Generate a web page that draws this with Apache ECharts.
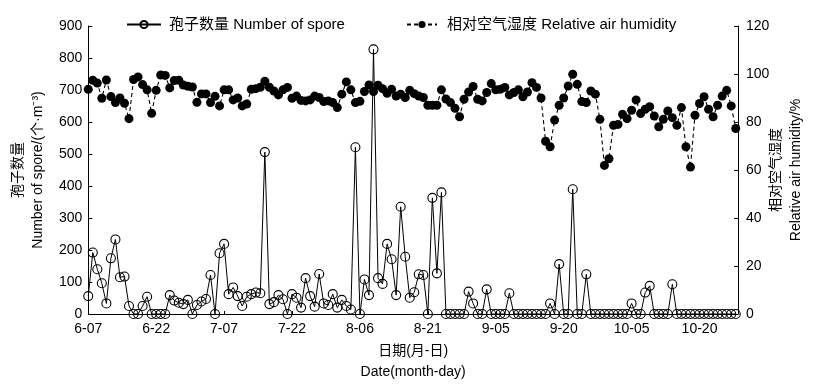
<!DOCTYPE html>
<html><head><meta charset="utf-8">
<script src="https://cdn.jsdelivr.net/npm/echarts@6/dist/echarts.min.js"></script>
<style>html,body{margin:0;padding:0;background:#fff}#c{width:824px;height:389px}</style>
</head><body><div id="c"></div>
<script>
// day index 0 = 6-07, one value per day
const tickLabels = ['6-07','6-22','7-07','7-22','8-06','8-21','9-05','9-20','10-05','10-20'];
const sporeCounts = [
  56,192,140,96,33,174,233,115,117,25,
  0,0,25,54,0,0,0,0,59,42,
  35,31,44,0,28,39,47,122,0,190,
  219,62,83,56,25,54,62,67,65,506,
  31,37,59,46,0,62,51,20,112,56,
  23,125,33,28,62,20,44,25,14,521,
  0,108,59,827,112,94,219,171,59,335,
  179,51,68,124,122,0,363,127,380,0,
  0,0,0,0,70,33,0,0,77,0,
  0,0,0,65,0,0,0,0,0,0,
  0,0,33,0,156,0,0,390,0,0,
  124,0,0,0,0,0,0,0,0,0,
  33,0,0,67,88,0,0,0,0,93,
  0,0,0,0,0,0,0,0,0,0,
  0,0,0,0
];
const humidity = [
  93.6,97.4,96.2,89.9,97.5,90.6,88.1,90,87.8,81.4,
  97.7,98.8,95.6,93.4,83.6,93.2,99.6,99.4,94.2,97.3,
  97.4,95.4,94.9,94.6,88.2,91.7,91.7,88.1,90.7,86.7,
  93.4,93.4,89.2,90,86.7,87.5,93.6,93.9,94.5,97,
  94.5,92.9,91.3,93.4,94.4,89.9,90.8,89,88.8,89.2,
  90.8,90.2,88.5,88.8,88.1,86,91.6,96.7,93.4,88.1,
  88.6,92.7,95.4,92.7,95.3,93.9,92,93.6,90.8,91.6,
  90.2,93.2,91.8,90.8,90.2,87,87,87,93.4,89.6,
  88.1,85.7,82.2,89.5,92.5,94.8,89.5,88.8,92.3,96,
  93.4,93.6,94.4,91.3,92.3,93.4,90.5,92.5,96.4,94.4,
  90,72,69.7,80.8,87,90,95,99.9,95.7,88.5,
  88.1,92.9,91.6,81.1,61.9,64.7,78.6,79,83.2,81.4,
  84.9,89.2,83.5,85.3,86.4,82.5,78,81.1,84.6,81.8,
  78.6,86,69.7,61.2,82.8,87.7,90.5,85.3,82.2,87,
  90.8,93.2,86.7,77.3
];
const sporeName = '孢子数量 Number of spore';
const humName = '相对空气湿度 Relative air humidity';

const FF = '"Liberation Sans", Arial, "Noto Sans CJK SC", sans-serif';
const chart = echarts.init(document.getElementById('c'), null, {renderer: 'canvas'});
const axisCommon = {
  axisLine: {show: true, lineStyle: {color: '#000', width: 1}},
  axisTick: {show: true, inside: true, length: 4, lineStyle: {color: '#000'}},
  splitLine: {show: false},
};
chart.setOption({
  animation: false,
  backgroundColor: '#fff',
  textStyle: {fontFamily: FF, color: '#000'},
  grid: {left: 81, right: 86, top: 26, bottom: 75},
  legend: [
    {data: [sporeName], left: 126, top: 17, padding: 0, itemWidth: 34, itemHeight: 9,
     textStyle: {fontSize: 15, color: '#000', fontFamily: FF, padding: [0, 0, 0, 3]}},
    {data: [humName], left: 406, top: 17, padding: 0, itemWidth: 30, itemHeight: 9,
     textStyle: {fontSize: 15, color: '#000', fontFamily: FF, padding: [0, 0, 0, 5]}}
  ],
  xAxis: Object.assign({}, axisCommon, {
    type: 'value', min: 0, max: 143.5, interval: 15,
    axisTick: {show: true, inside: true, length: 3, lineStyle: {color: '#000'}},
    axisLabel: {fontSize: 14, color: '#000', margin: 8, fontFamily: FF, showMaxLabel: false,
      formatter: v => (v % 15 === 0 && tickLabels[v / 15]) ? tickLabels[v / 15] : ''},
    name: '日期(月-日)\nDate(month-day)', nameLocation: 'middle', nameGap: 27,
    nameTextStyle: {fontSize: 14, lineHeight: 21, color: '#000', fontFamily: FF}
  }),
  yAxis: [
    Object.assign({}, axisCommon, {
      type: 'value', min: 0, max: 900, interval: 100, position: 'left',
      axisLabel: {fontSize: 14, color: '#000', margin: 6, fontFamily: FF},
      name: '孢子数量\nNumber of spore/(个·m⁻³)', nameLocation: 'middle', nameRotate: 90, nameGap: 33,
      nameTextStyle: {fontSize: 14, lineHeight: 20, color: '#000', fontFamily: FF}
    }),
    Object.assign({}, axisCommon, {
      type: 'value', min: 0, max: 120, interval: 20, position: 'right',
      axisLabel: {fontSize: 14, color: '#000', margin: 8, fontFamily: FF},
      name: '相对空气湿度\nRelative air humidity/%', nameLocation: 'middle', nameRotate: 90, nameGap: 28,
      nameMoveOverlap: false,
      nameTextStyle: {fontSize: 14, lineHeight: 20, color: '#000', fontFamily: FF}
    })
  ],
  series: [
    {name: sporeName, type: 'line', yAxisIndex: 0,
     data: sporeCounts.map((v, i) => [i, v]),
     symbol: 'circle', symbolSize: 9, showAllSymbol: true,
     lineStyle: {color: '#000', width: 1},
     itemStyle: {color: 'rgba(255,255,255,0)', borderColor: '#000', borderWidth: 1.1},
     emphasis: {disabled: true}, z: 2},
    {name: humName, type: 'line', yAxisIndex: 1,
     data: humidity.map((v, i) => [i, v]),
     symbol: 'circle', symbolSize: 9, showAllSymbol: true,
     lineStyle: {color: '#000', width: 1.1, type: [4, 3]},
     itemStyle: {color: '#000'},
     emphasis: {disabled: true}, z: 3}
  ]
});
</script>
</body></html>
